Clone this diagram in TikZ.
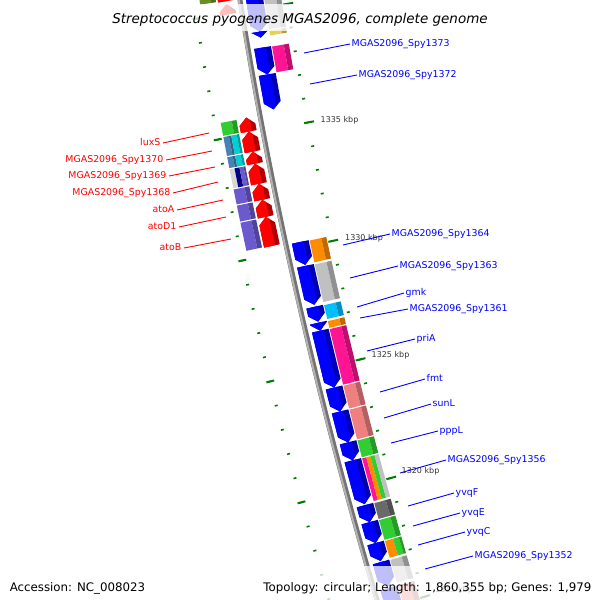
\documentclass[tikz,border=0pt]{standalone}
\usepackage{fontspec}
\setmainfont{DejaVu Sans}

\definecolor{genblue}{RGB}{0,0,255}
\definecolor{genred}{RGB}{255,0,0}
\definecolor{tickgreen}{RGB}{0,125,0}
\definecolor{kbpgray}{RGB}{51,51,51}
\definecolor{cogpink}{RGB}{255,20,147}
\definecolor{cogorange}{RGB}{255,140,0}
\definecolor{cogsilver}{RGB}{192,192,192}
\definecolor{cogsky}{RGB}{0,191,255}
\definecolor{cogsalmon}{RGB}{240,128,128}
\definecolor{coglime}{RGB}{50,205,50}
\definecolor{cogdim}{RGB}{105,105,105}
\definecolor{cogsteel}{RGB}{70,130,180}
\definecolor{cogturq}{RGB}{0,206,209}
\definecolor{cogslate}{RGB}{106,90,205}
\definecolor{cognavy}{RGB}{0,0,128}
\definecolor{coglight}{RGB}{215,215,215}
\definecolor{cogolive}{RGB}{107,142,35}
\definecolor{cogkhaki}{RGB}{230,210,80}

\tikzset{
  bluelab/.style={text=genblue, font=\fontsize{9.4}{11}\selectfont, anchor=west, inner sep=1.5pt, text height=7pt, text depth=1.5pt},
  redlab/.style={text=genred, font=\fontsize{9.4}{11}\selectfont, anchor=east, inner sep=2.5pt, text height=7pt, text depth=1.5pt},
  bluelead/.style={draw=genblue, line width=0.9pt},
  redlead/.style={draw=genred, line width=0.9pt},
  minortick/.style={draw=tickgreen, line width=1.6pt},
  majortick/.style={draw=tickgreen, line width=2pt},
  kbp/.style={text=kbpgray, font=\fontsize{8}{10}\selectfont, anchor=base west, inner sep=0pt},
  infotext/.style={font=\fontsize{11.8}{14}\selectfont, inner sep=0pt},
  band/.style={fill=white, opacity=0.75}
}

\newcommand\mappt[2]{({bx(#1)+(#2)*cos(ang(#1))},{(#1)-(#2)*sin(ang(#1))})}
\newcommand\cogflat[5]{%
  \fill[#5] \mappt{#1+0.6}{#3} -- \mappt{#1+0.6}{#4} -- \mappt{#2-0.6}{#4} -- \mappt{#2-0.6}{#3} -- cycle;}
\newcommand\cogbox[5]{%
  \pgfmathsetmacro\gsplit{(#3)+0.7*((#4)-(#3))}%
  \fill[#5] \mappt{#1+0.6}{#3} -- \mappt{#1+0.6}{\gsplit} -- \mappt{#2-0.6}{\gsplit} -- \mappt{#2-0.6}{#3} -- cycle;
  \fill[#5!75!black] \mappt{#1+0.6}{\gsplit} -- \mappt{#1+0.6}{#4} -- \mappt{#2-0.6}{#4} -- \mappt{#2-0.6}{\gsplit} -- cycle;}
\newcommand\genarrow[5]{%
  \pgfmathsetmacro\ghead{((#2)-(#1))>0 ? min(7,(#2)-(#1)) : max(-7,(#2)-(#1))}%
  \pgfmathsetmacro\gneck{(#2)-\ghead}%
  \pgfmathsetmacro\gmid{((#3)+(#4))/2}%
  \pgfmathsetmacro\gsplit{(#3)+0.7*((#4)-(#3))}%
  \pgfmathsetmacro\gcut{\gneck+\ghead*((#4)-\gsplit)/((#4)-\gmid)}%
  \fill[#5!70!black] \mappt{#1}{#3} -- \mappt{#1}{#4} -- \mappt{\gneck}{#4} -- \mappt{#2}{\gmid} -- \mappt{\gneck}{#3} -- cycle;
  \fill[#5] \mappt{#1}{#3} -- \mappt{#1}{\gsplit} -- \mappt{\gcut}{\gsplit} -- \mappt{#2}{\gmid} -- \mappt{\gneck}{#3} -- cycle;}

\begin{document}
\begin{tikzpicture}[x=1pt, y=-1pt,
  declare function={bx(\t)=240+0.16*\t+1.14*(\t/100)*(\t/100); ang(\t)=atan(0.16+\t/4386);}]
\useasboundingbox (0,0) rectangle (600,600);
\fill[white] (0,0) rectangle (600,600);
\clip (0,0) rectangle (600,600);

\draw[line width=5pt, black!55, domain=-20:630, samples=40, variable=\t] plot ({bx(\t)},{\t});
\draw[line width=2pt, black!30, domain=-20:630, samples=40, variable=\t] plot ({bx(\t)-1.2*cos(ang(\t))},{\t+1.2*sin(ang(\t))});

\genarrow{-15}{34}{6}{23}{genblue} \cogbox{-15}{34}{24}{41}{cogsilver}
\genarrow{34}{40}{6}{23}{genblue} \cogbox{34}{40}{24}{41}{cogkhaki}
\genarrow{50}{77}{6}{23}{genblue} \cogbox{50}{77}{24}{41}{cogpink}
\genarrow{77}{112}{6}{23}{genblue}
\genarrow{245}{268}{6}{23}{genblue} \cogbox{245}{268}{24}{41}{cogorange}
\genarrow{269}{308}{6}{23}{genblue} \cogbox{269}{308}{24}{41}{cogsilver}
\genarrow{310}{325}{6}{23}{genblue} \cogbox{310}{325}{24}{41}{cogsky}
\genarrow{326}{334}{6}{23}{genblue} \cogbox{326}{334}{24}{41}{cogorange}
\genarrow{334}{391}{6}{23}{genblue} \cogbox{334}{391}{24}{41}{cogpink}
\genarrow{391}{415}{6}{23}{genblue} \cogbox{391}{415}{24}{41}{cogsalmon}
\genarrow{415}{446}{6}{23}{genblue} \cogbox{415}{446}{24}{41}{cogsalmon}
\genarrow{446}{464}{6}{23}{genblue} \cogbox{446}{464}{24}{41}{coglime}
\genarrow{464}{508}{6}{23}{genblue}
\cogflat{464}{508}{24}{28.25}{cogpink} \cogflat{464}{508}{28.25}{32.5}{cogorange}
\cogflat{464}{508}{32.5}{36.75}{coglime} \cogflat{464}{508}{36.75}{41}{cogsilver}
\genarrow{509}{526}{6}{23}{genblue} \cogbox{509}{526}{24}{41}{cogdim}
\genarrow{526}{547}{6}{23}{genblue} \cogbox{526}{547}{24}{41}{coglime}
\genarrow{547}{565}{6}{23}{genblue} \cogflat{547}{565}{24}{32.5}{cogorange} \cogbox{547}{565}{32.5}{41}{coglime}
\genarrow{566}{590}{6}{23}{genblue} \cogbox{566}{590}{24}{41}{cogsilver}
\genarrow{592}{640}{6}{23}{genblue} \cogbox{592}{640}{24}{41}{cogsalmon}

\genarrow{-1}{-40}{-22}{-6}{genred} \cogbox{-40}{-1}{-40}{-24}{cogolive}
\genarrow{12}{2}{-22}{-6}{genred}
\genarrow{129}{115}{-22}{-6}{genred} \cogbox{115}{129}{-40}{-24}{coglime}
\genarrow{149}{129}{-22}{-6}{genred} \cogbox{129}{149}{-40}{-32}{cogsteel} \cogbox{129}{149}{-32}{-24}{cogturq}
\genarrow{161}{149}{-22}{-6}{genred} \cogbox{149}{161}{-40}{-32}{cogsteel} \cogbox{149}{161}{-32}{-24}{cogturq}
\genarrow{181}{161}{-22}{-6}{genred} \cogflat{161}{181}{-40}{-35}{coglight} \cogflat{161}{181}{-35}{-30}{cognavy} \cogbox{161}{181}{-30}{-24}{cogslate}
\genarrow{197}{181}{-22}{-6}{genred} \cogbox{181}{197}{-40}{-24}{cogslate}
\genarrow{214}{197}{-22}{-6}{genred} \cogbox{197}{214}{-40}{-24}{cogslate}
\genarrow{243}{214}{-22}{-6}{genred} \cogbox{214}{243}{-40}{-24}{cogslate}

\foreach \j in {-5,...,20} {
  \pgfmathsetmacro\tk{131+23.95*\j}
  \draw[minortick] \mappt{\tk}{44.5} -- \mappt{\tk}{47.5};
  \draw[minortick] \mappt{\tk}{-44.5} -- \mappt{\tk}{-47.5};
}
\foreach \j in {-5,0,5,10,15,20} {
  \pgfmathsetmacro\tk{131+23.95*\j}
  \draw[majortick] \mappt{\tk}{42} -- \mappt{\tk}{52};
  \draw[majortick] \mappt{\tk}{-42} -- \mappt{\tk}{-50};
}

\node[kbp] (kbp1335) at (320.5,122.7) {1335 kbp};
\node[kbp] (kbp1330) at (345,240) {1330 kbp};
\node[kbp] (kbp1325) at (371.5,357.7) {1325 kbp};
\node[kbp] (kbp1320) at (401.5,473.3) {1320 kbp};
\node[kbp] (kbp1315) at (435,592) {1315 kbp};

\fill[band] (108,4) rectangle (493,31);
\fill[band] (255,566) rectangle (600,600);
\fill[band] (0,566) rectangle (150,600);

\coordinate (luxS-pt) at (209,133);
\coordinate (spy1370-pt) at (212,151);
\coordinate (spy1369-pt) at (215,167);
\coordinate (spy1368-pt) at (218,182);
\coordinate (atoA-pt) at (223,200);
\coordinate (atoD1-pt) at (226,217);
\coordinate (atoB-pt) at (231,239);

\node[redlab] (luxS) at (163,143) {luxS};
\node[redlab] (spy1370) at (166,160) {MGAS2096\_Spy1370};
\node[redlab] (spy1369) at (169,176) {MGAS2096\_Spy1369};
\node[redlab] (spy1368) at (173,193) {MGAS2096\_Spy1368};
\node[redlab] (atoA) at (177,210) {atoA};
\node[redlab] (atoD1) at (179,227) {atoD1};
\node[redlab] (atoB) at (184,248) {atoB};

\draw[redlead] (luxS.east) -- (luxS-pt);
\draw[redlead] (spy1370.east) -- (spy1370-pt);
\draw[redlead] (spy1369.east) -- (spy1369-pt);
\draw[redlead] (spy1368.east) -- (spy1368-pt);
\draw[redlead] (atoA.east) -- (atoA-pt);
\draw[redlead] (atoD1.east) -- (atoD1-pt);
\draw[redlead] (atoB.east) -- (atoB-pt);

\coordinate (spy1373-pt) at (304,53);
\coordinate (spy1372-pt) at (310,84);
\coordinate (spy1364-pt) at (343,245);
\coordinate (spy1363-pt) at (350,278);
\coordinate (gmk-pt) at (357,307);
\coordinate (spy1361-pt) at (360,318);
\coordinate (priA-pt) at (367,351);
\coordinate (fmt-pt) at (380,392);
\coordinate (sunL-pt) at (384,418);
\coordinate (pppL-pt) at (391,443);
\coordinate (spy1356-pt) at (400,473);
\coordinate (yvqF-pt) at (408,506);
\coordinate (yvqE-pt) at (413,526);
\coordinate (yvqC-pt) at (418,545);
\coordinate (spy1352-pt) at (425,569);

\node[bluelab] (spy1373) at (350,44) {MGAS2096\_Spy1373};
\node[bluelab] (spy1372) at (357,75) {MGAS2096\_Spy1372};
\node[bluelab] (spy1364) at (390,234) {MGAS2096\_Spy1364};
\node[bluelab] (spy1363) at (398,266) {MGAS2096\_Spy1363};
\node[bluelab] (gmk) at (404,293) {gmk};
\node[bluelab] (spy1361) at (408,309) {MGAS2096\_Spy1361};
\node[bluelab] (priA) at (415,339) {priA};
\node[bluelab] (fmt) at (425,379) {fmt};
\node[bluelab] (sunL) at (431,404) {sunL};
\node[bluelab] (pppL) at (438,431) {pppL};
\node[bluelab] (spy1356) at (446,460) {MGAS2096\_Spy1356};
\node[bluelab] (yvqF) at (454,493) {yvqF};
\node[bluelab] (yvqE) at (460,513) {yvqE};
\node[bluelab] (yvqC) at (465,532) {yvqC};
\node[bluelab] (spy1352) at (473,556) {MGAS2096\_Spy1352};

\draw[bluelead] (spy1373-pt) -- (spy1373.west);
\draw[bluelead] (spy1372-pt) -- (spy1372.west);
\draw[bluelead] (spy1364-pt) -- (spy1364.west);
\draw[bluelead] (spy1363-pt) -- (spy1363.west);
\draw[bluelead] (gmk-pt) -- (gmk.west);
\draw[bluelead] (spy1361-pt) -- (spy1361.west);
\draw[bluelead] (priA-pt) -- (priA.west);
\draw[bluelead] (fmt-pt) -- (fmt.west);
\draw[bluelead] (sunL-pt) -- (sunL.west);
\draw[bluelead] (pppL-pt) -- (pppL.west);
\draw[bluelead] (spy1356-pt) -- (spy1356.west);
\draw[bluelead] (yvqF-pt) -- (yvqF.west);
\draw[bluelead] (yvqE-pt) -- (yvqE.west);
\draw[bluelead] (yvqC-pt) -- (yvqC.west);
\draw[bluelead] (spy1352-pt) -- (spy1352.west);

\node[font=\fontsize{13.5}{16}\selectfont\itshape, anchor=base, inner sep=0pt] (title) at (300,23.3) {Streptococcus pyogenes MGAS2096, complete genome};
\node[infotext, anchor=base west] (accession) at (9.6,591.5) {Accession: NC\_008023};
\node[infotext, anchor=base east] (topology) at (591.5,591.5) {Topology: circular; Length: 1,860,355 bp; Genes: 1,979};
\end{tikzpicture}
\end{document}
